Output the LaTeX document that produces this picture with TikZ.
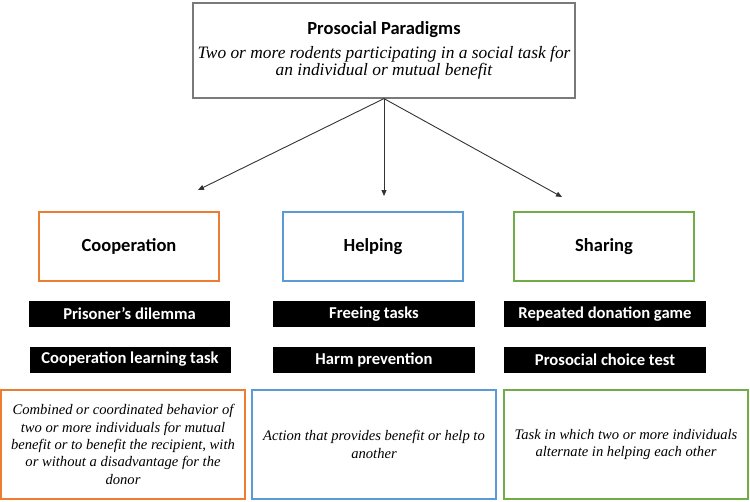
\documentclass[tikz,border=0pt]{standalone}
\usepackage{fontspec}
\setmainfont{Liberation Serif}
\newfontfamily\calibri{Carlito}
\usetikzlibrary{arrows.meta}
\definecolor{coopcol}{HTML}{ED7D31}
\definecolor{helpcol}{HTML}{5B9BD5}
\definecolor{sharecol}{HTML}{70AD47}
\definecolor{framecol}{HTML}{7A7A7A}
\begin{document}
\begin{tikzpicture}[x=1pt, y=-1pt,
    topbox/.style={draw=framecol, line width=1.2pt, minimum width=382pt, minimum height=95pt, align=center, inner sep=0pt},
    catbox/.style={draw=#1, line width=2pt, minimum width=180pt, minimum height=69pt, font=\calibri\bfseries\fontsize{18.5}{21}\selectfont},
    taskbar/.style={fill=black, text=white, minimum width=201pt, minimum height=26pt, inner sep=0pt, font=\calibri\bfseries\fontsize{16.6}{19}\selectfont},
    defbox/.style={draw=#1, line width=2pt, minimum width=244pt, minimum height=109pt, align=center, inner sep=0pt, font=\itshape\fontsize{14.6}{17.3}\selectfont},
    arr/.style={-{Triangle[length=6pt,width=5pt]}, draw=black!80, line width=0.9pt}]
    \useasboundingbox (0,0) rectangle (750,501);

    \draw (384,50.5) node[topbox, font=\itshape\fontsize{17.4}{17}\selectfont] (top) {\calibri\bfseries\upshape\fontsize{18.5}{20}\selectfont Prosocial Paradigms\\[7pt]
        Two or more rodents participating in a social task for\\an individual or mutual benefit};

    \draw (129,246.5) node[catbox=coopcol] (coop) {Cooperation};
    \draw (373,246.5) node[catbox=helpcol] (help) {Helping};
    \draw (604,246.5) node[catbox=sharecol] (share) {Sharing};

    \coordinate (c) at (198,190);
    \coordinate (h) at (384,196);
    \coordinate (s) at (562,197);
    \draw[arr] (top.south) -- (c);
    \draw[arr] (top.south) -- (h);
    \draw[arr] (top.south) -- (s);

    \draw (129.5,314) node[taskbar] (pd) {Prisoner’s dilemma};
    \draw (130,359.5) node[taskbar] (clt) {Cooperation learning task};
    \draw (374,314) node[taskbar, minimum width=202pt] (ft) {Freeing tasks};
    \draw (374,359.5) node[taskbar, minimum width=202pt] (hp) {Harm prevention};
    \draw (605,314) node[taskbar, minimum width=202pt] (rdg) {Repeated donation game};
    \draw (605,359.5) node[taskbar, minimum width=202pt] (pct) {Prosocial choice test};

    \draw (123,444.5) node[defbox=coopcol] (dcoop) {Combined or coordinated behavior of\\two or more individuals for mutual\\benefit or to benefit the recipient, with\\or without a disadvantage for the\\donor};
    \draw (374,444.5) node[defbox=helpcol] (dhelp) {Action that provides benefit or help to\\another};
    \draw (626,444.5) node[defbox=sharecol] (dshare) {Task in which two or more individuals\\alternate in helping each other};
\end{tikzpicture}
\end{document}
